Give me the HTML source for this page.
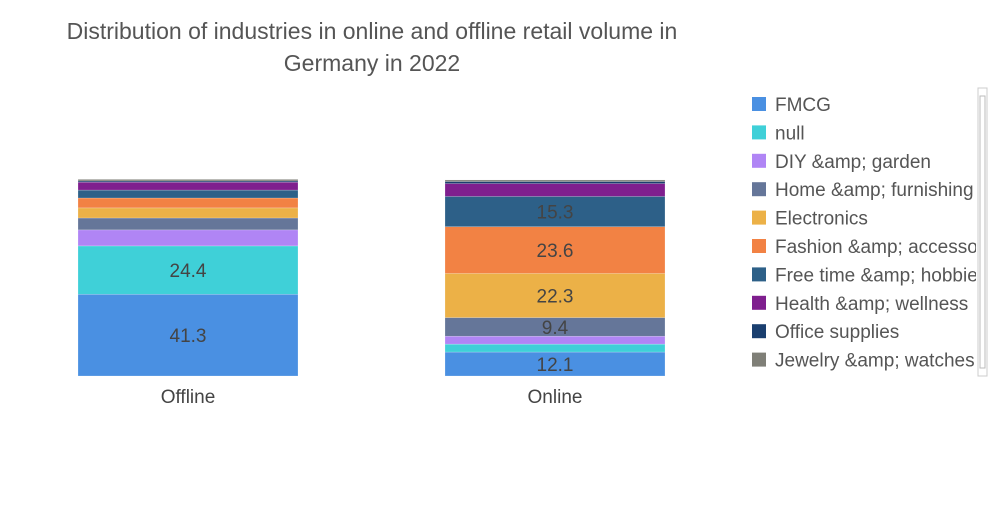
<!DOCTYPE html>
<html><head><meta charset="utf-8"><style>
body{margin:0;background:#fff;width:1000px;height:504px;overflow:hidden;font-family:"Liberation Sans",sans-serif}
</style></head><body>
<svg id="c" width="1000" height="504">
<text x="372" y="39" text-anchor="middle" font-size="23" fill="#555">Distribution of industries in online and offline retail volume in</text>
<text x="372" y="71" text-anchor="middle" font-size="23" fill="#555">Germany in 2022</text>
<g id="bars"></g><g id="legend"></g>
<rect x="978" y="88" width="9" height="288" fill="#fff" stroke="#ccc"/>
<rect x="980" y="96" width="5" height="272" fill="#fff" stroke="#bbb"/>
</svg>
<script>
const categories=["Offline","Online"];
const seriesNames=["FMCG","null","DIY &amp; garden","Home &amp; furnishing","Electronics","Fashion &amp; accessories","Free time &amp; hobbies","Health &amp; wellness","Office supplies","Jewelry &amp; watches"];
const offlineValues=[41.3,24.4,8.1,6.0,5.1,5.0,4.0,4.0,0.6,0.8];
const onlineValues=[12.1,4.0,4.0,9.4,22.3,23.6,15.3,6.5,1.0,0.8];
const colors=["#4a90e2","#3fd0d8","#b085f5","#657699","#ecb147","#f28244","#2d6088","#7f1f8e","#1a3f6f","#7f7f77"];
const ns="http://www.w3.org/2000/svg";
const bottom=376,pxPer=1.98,barW=220,barX=[78,445];
const y=v=>bottom-v*pxPer;
const gb=document.getElementById("bars");
[offlineValues,onlineValues].forEach((vals,ci)=>{
 let acc=0;
 vals.forEach((v,si)=>{
  const r=document.createElementNS(ns,"rect");
  r.setAttribute("x",barX[ci]);r.setAttribute("y",y(acc+v));
  r.setAttribute("width",barW);r.setAttribute("height",v*pxPer);
  r.setAttribute("fill",colors[si]);r.setAttribute("stroke","rgba(255,255,255,0.4)");r.setAttribute("stroke-width","0.5");
  
  
  gb.appendChild(r);
  if(v>=9){
   const t=document.createElementNS(ns,"text");
   t.setAttribute("x",barX[ci]+barW/2);t.setAttribute("y",y(acc+v/2)+7);
   t.setAttribute("text-anchor","middle");t.setAttribute("font-size","19");t.setAttribute("fill","#444");
   t.textContent=v;
   
   
   gb.appendChild(t);
  }
  acc+=v;
 });
 const l=document.createElementNS(ns,"text");
 l.setAttribute("x",barX[ci]+barW/2);l.setAttribute("y",403);
 l.setAttribute("text-anchor","middle");l.setAttribute("font-size","19");l.setAttribute("fill","#444");
 l.textContent=categories[ci];
 
 
 gb.appendChild(l);
});
const gl=document.getElementById("legend");
const clip=document.createElementNS(ns,"clipPath");clip.id="lc";
const cr=document.createElementNS(ns,"rect");cr.setAttribute("x",740);cr.setAttribute("y",85);cr.setAttribute("width",236);cr.setAttribute("height",300);
clip.appendChild(cr);gl.appendChild(clip);gl.setAttribute("clip-path","url(#lc)");
seriesNames.forEach((n,i)=>{
 const yy=104+i*28.4;
 const r=document.createElementNS(ns,"rect");
 r.setAttribute("x",752);r.setAttribute("y",yy-7);r.setAttribute("width",14);r.setAttribute("height",14);r.setAttribute("fill",colors[i]);
 
 
 gl.appendChild(r);
 const t=document.createElementNS(ns,"text");
 t.setAttribute("x",775);t.setAttribute("y",yy+7);t.setAttribute("font-size","19");t.setAttribute("fill","#555");
 t.textContent=n;
 
 
 gl.appendChild(t);
});
</script>
</body></html>
